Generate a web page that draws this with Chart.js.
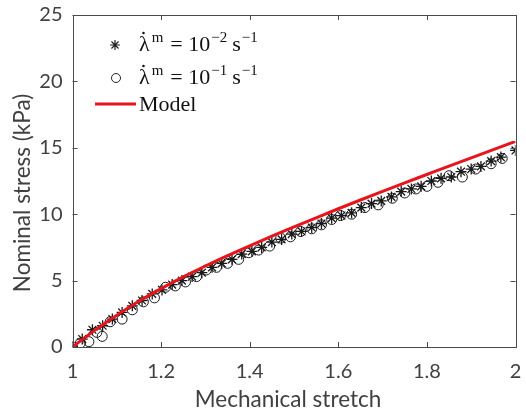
<!DOCTYPE html>
<html>
<head>
<meta charset="utf-8">
<script src="https://cdn.jsdelivr.net/npm/chart.js@4/dist/chart.umd.min.js"></script>
<style>
html,body{margin:0;padding:0;background:#fff;}
#wrap{width:526px;height:415px;}
</style>
</head>
<body>
<div id="wrap"><canvas id="c" width="526" height="415"></canvas></div>
<script>
// Series 1: lambda-dot = 1e-2 s^-1 (asterisks)
const starX = [1.000,1.022,1.045,1.068,1.090,1.112,1.135,1.157,1.180,1.202,1.225,1.247,1.270,1.292,1.315,1.337,1.360,1.382,1.405,1.427,1.450,1.472,1.495,1.517,1.540,1.562,1.585,1.607,1.630,1.652,1.675,1.697,1.720,1.742,1.765,1.787,1.810,1.832,1.855,1.877,1.900,1.922,1.945,1.967,2.000];
const starY = [0.0,0.6,1.3,1.6,2.1,2.6,3.1,3.5,4.0,4.3,4.7,5.0,5.3,5.6,6.0,6.3,6.6,7.0,7.2,7.5,7.9,8.1,8.5,8.7,9.0,9.3,9.7,9.9,10.1,10.5,10.8,11.0,11.3,11.7,11.9,12.1,12.5,12.7,12.8,13.2,13.4,13.6,14.0,14.3,14.8];
// Series 2: lambda-dot = 1e-1 s^-1 (circles)
const circX = [1.000,1.018,1.037,1.055,1.067,1.085,1.112,1.135,1.160,1.185,1.210,1.232,1.255,1.280,1.302,1.325,1.350,1.375,1.398,1.420,1.445,1.470,1.492,1.515,1.540,1.562,1.585,1.605,1.630,1.660,1.690,1.722,1.750,1.775,1.800,1.825,1.850,1.880,1.910,1.945,1.970];
const circY = [0.0,0.3,0.4,1.1,0.8,1.9,2.1,2.8,3.4,3.7,4.5,4.6,4.9,5.3,5.8,6.0,6.3,6.6,7.1,7.3,7.6,8.2,8.3,8.7,8.9,9.2,9.6,9.9,10.0,10.5,10.7,11.2,11.6,11.9,12.1,12.4,12.9,12.8,13.4,13.8,14.2];
// Model curve
const modelX = [1.00,1.05,1.10,1.15,1.20,1.25,1.30,1.35,1.40,1.45,1.50,1.55,1.60,1.65,1.70,1.75,1.80,1.85,1.90,1.95,2.00];
const modelY = [0.0,1.25,2.40,3.45,4.40,5.28,6.10,6.88,7.62,8.34,9.04,9.73,10.41,11.07,11.72,12.36,12.99,13.62,14.24,14.86,15.48];
// Ticks and titles
const xTicks = [1,1.2,1.4,1.6,1.8,2];
const yTicks = [0,5,10,15,20,25];
const xTitle = 'Mechanical stretch';
const yTitle = 'Nominal stress (kPa)';

const toPts = (xs, ys) => xs.map((x, i) => ({x: x, y: ys[i]}));
const AX = '#4a4a4a';
const TXT = '#404040';
const FONT = 'Lato, "Open Sans", sans-serif';

const boxPlugin = {
  id: 'box',
  afterDatasetsDraw(chart) {
    const ctx = chart.ctx, a = chart.chartArea;
    const xs = chart.scales.x, ys = chart.scales.y;
    ctx.save();
    ctx.strokeStyle = AX; ctx.lineWidth = 1;
    ctx.strokeRect(Math.round(a.left) + 0.5, Math.round(a.top) + 0.5, Math.round(a.right - a.left), Math.round(a.bottom - a.top));
    ctx.beginPath();
    const L = 5;
    xTicks.forEach(v => {
      const px = Math.round(xs.getPixelForValue(v)) + 0.5;
      ctx.moveTo(px, a.bottom); ctx.lineTo(px, a.bottom - L);
      ctx.moveTo(px, a.top); ctx.lineTo(px, a.top + L);
    });
    yTicks.forEach(v => {
      const py = Math.round(ys.getPixelForValue(v)) + 0.5;
      ctx.moveTo(a.left, py); ctx.lineTo(a.left + L, py);
      ctx.moveTo(a.right, py); ctx.lineTo(a.right - L, py);
    });
    ctx.stroke();
    ctx.restore();
  },
  afterDraw(chart) {
    const ctx = chart.ctx;
    ctx.save();
    // axis titles
    ctx.fillStyle = TXT;
    ctx.font = '22.5px ' + FONT;
    ctx.textAlign = 'center'; ctx.textBaseline = 'middle';
    ctx.fillText(xTitle, 288, 400);
    ctx.save();
    ctx.translate(23, 193); ctx.rotate(-Math.PI / 2);
    ctx.fillText(yTitle, 0, 0);
    ctx.restore();
    // legend
    const serif = '"Liberation Serif", "DejaVu Serif", serif';
    const big = '22px ' + serif, small = '15px ' + serif;
    ctx.fillStyle = '#111';
    ctx.textBaseline = 'alphabetic';
    ctx.textAlign = 'left';
    function drawLabel(x, y, parts) {
      parts.forEach(p => {
        ctx.font = p.sup ? small : big;
        ctx.fillText(p.t, x, p.sup ? y - 9 : y);
        const w = ctx.measureText(p.t).width;
        if (p.dot) { ctx.beginPath(); ctx.arc(x + w * 0.42, y - 18, 1.3, 0, Math.PI * 2); ctx.fill(); }
        x += w + (p.gap || 0);
      });
    }
    ctx.strokeStyle = '#222'; ctx.lineWidth = 1.2;
    function star(cx, cy, r) {
      ctx.beginPath();
      ctx.moveTo(cx - r, cy); ctx.lineTo(cx + r, cy);
      ctx.moveTo(cx, cy - r); ctx.lineTo(cx, cy + r);
      const d = r * 0.7071;
      ctx.moveTo(cx - d, cy - d); ctx.lineTo(cx + d, cy + d);
      ctx.moveTo(cx - d, cy + d); ctx.lineTo(cx + d, cy - d);
      ctx.stroke();
    }
    star(115, 45, 5);
    ctx.lineWidth = 1;
    ctx.beginPath(); ctx.arc(116, 78, 4.5, 0, Math.PI * 2); ctx.stroke();
    drawLabel(139, 51, [{t: 'λ', dot: true, gap: 2}, {t: 'm', sup: true, gap: 7}, {t: '= 10', gap: 1}, {t: '\u22122', sup: true, gap: 5}, {t: 's', gap: 1}, {t: '\u22121', sup: true}]);
    drawLabel(139, 84, [{t: 'λ', dot: true, gap: 2}, {t: 'm', sup: true, gap: 7}, {t: '= 10', gap: 1}, {t: '\u22121', sup: true, gap: 5}, {t: 's', gap: 1}, {t: '\u22121', sup: true}]);
    ctx.strokeStyle = '#e8141c'; ctx.lineWidth = 3;
    ctx.beginPath(); ctx.moveTo(95, 104); ctx.lineTo(136, 104); ctx.stroke();
    drawLabel(139, 111, [{t: 'Model'}]);
    ctx.restore();
  }
};

new Chart(document.getElementById('c'), {
  type: 'scatter',
  data: {
    datasets: [
      {label: 'Model', data: toPts(modelX, modelY), showLine: true, borderColor: '#e8141c', borderWidth: 3, pointRadius: 0, order: 0, cubicInterpolationMode: 'monotone'},
      {label: 'star', data: toPts(starX, starY), pointStyle: 'star', pointRadius: 5.5, borderColor: '#1a1a1a', backgroundColor: '#1a1a1a', pointBorderWidth: 1.3, order: 1},
      {label: 'circle', data: toPts(circX, circY), pointStyle: 'circle', pointRadius: 5, borderColor: '#1a1a1a', backgroundColor: 'rgba(0,0,0,0)', pointBorderWidth: 1, order: 2}
    ]
  },
  options: {
    responsive: false,
    animation: false,
    layout: {padding: {top: 15, right: 10.5, left: 0, bottom: 0}},
    plugins: {legend: {display: false}, tooltip: {enabled: false}},
    scales: {
      x: {
        type: 'linear', min: 1, max: 2,
        afterBuildTicks: s => { s.ticks = xTicks.map(v => ({value: v})); },
        afterFit: s => { s.height = 68; s.paddingLeft = 0; s.paddingRight = 0; },
        grid: {display: false, drawTicks: false},
        border: {display: false},
        ticks: {color: TXT, font: {family: FONT, size: 20}, padding: 13, maxRotation: 0, callback: v => String(v)},
        title: {display: false}
      },
      y: {
        type: 'linear', min: 0, max: 25,
        afterBuildTicks: s => { s.ticks = yTicks.map(v => ({value: v})); },
        afterFit: s => { s.width = 72.5; s.paddingTop = 0; s.paddingBottom = 0; },
        grid: {display: false, drawTicks: false},
        border: {display: false},
        ticks: {color: TXT, font: {family: FONT, size: 20}, padding: 10, callback: v => String(v)},
        title: {display: false}
      }
    }
  },
  plugins: [boxPlugin]
});
</script>
</body>
</html>
